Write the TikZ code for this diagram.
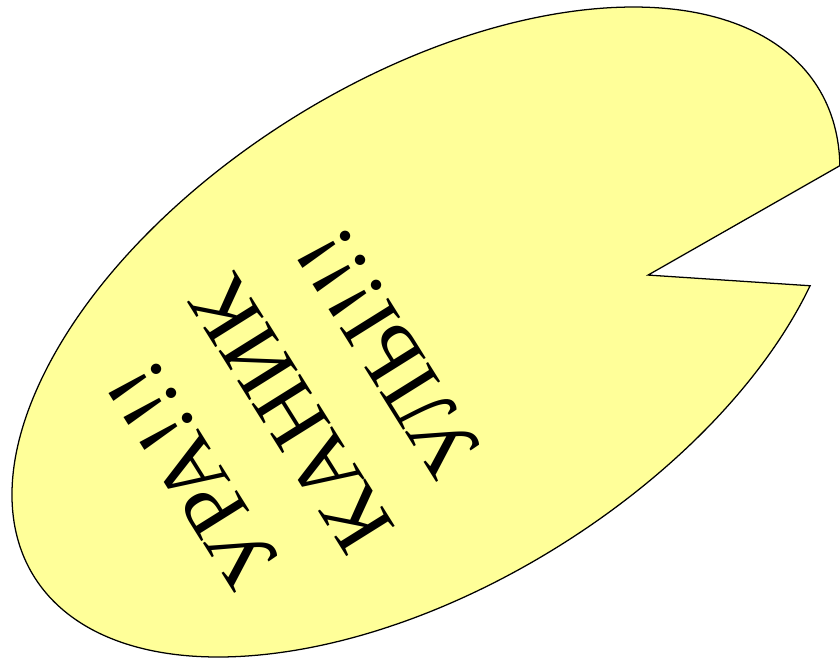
\documentclass[tikz,border=0pt]{standalone}
\usepackage{fontspec}
\setmainfont{Liberation Serif}
\usepackage{tikz}
\usetikzlibrary{positioning}
\definecolor{lightyellow}{RGB}{255,255,153}

\begin{document}
\begin{tikzpicture}[
  bubble/.style={draw,fill=lightyellow,line width=0.9pt,line join=miter},
  cheer/.style={align=center,font=\fontsize{62}{82}\selectfont,inner sep=0pt}]
\useasboundingbox (0,0) rectangle (21,16.5);
% speech bubble with the notch cut into its right side
\begin{scope}[shift={(10.65,8.2)},rotate=122]
  \coordinate (tip) at (-1.735,-5.4625);
  \path[bubble] (tip) -- (229.3:6.3 and 11.55)
    arc[start angle=229.3,end angle=-108.1,x radius=6.3,y radius=11.55] -- cycle;
\end{scope}
\node[cheer,rotate=122] (shout) at (7.3,6.15) {УРА!!!\\КАНИК\\УЛЫ!!!};
\end{tikzpicture}
\end{document}
